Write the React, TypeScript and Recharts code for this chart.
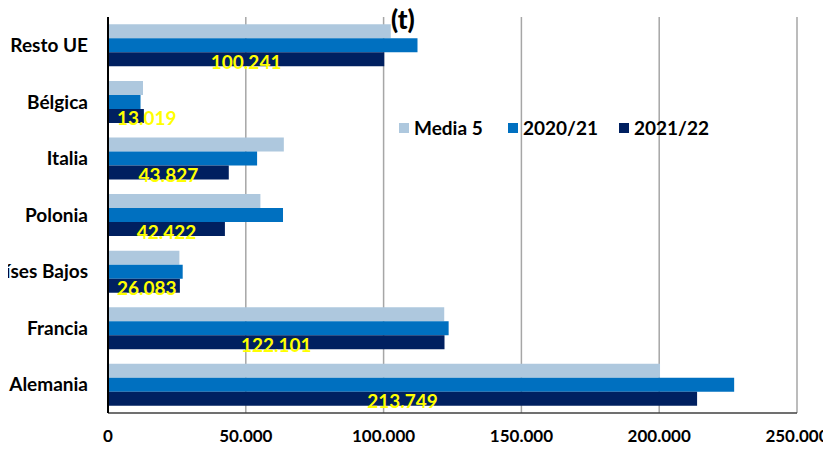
import {
  BarChart,
  Bar,
  XAxis,
  YAxis,
  CartesianGrid,
  LabelList
} from 'recharts';

const countries = ['Resto UE', 'Bélgica', 'Italia', 'Polonia', 'Países Bajos', 'Francia', 'Alemania'];
const media5 = [102600, 12700, 63800, 55300, 25900, 122000, 200300];
const s2020 = [112300, 11800, 54100, 63500, 27100, 123600, 227200];
const s2021 = [100241, 13019, 43827, 42422, 26083, 122101, 213749];
const xTicks = [0, 50000, 100000, 150000, 200000, 250000];

const series = [
  { key: 'media5', name: 'Media 5', color: '#aec8de' },
  { key: 's2020', name: '2020/21', color: '#0070c0' },
  { key: 's2021', name: '2021/22', color: '#002060' }
];

const data = countries.map((c, i) => ({
  country: c,
  media5: media5[i],
  s2020: s2020[i],
  s2021: s2021[i]
}));

const FONT = 'Lato, "Open Sans", sans-serif';

function fmt(v: number) {
  return v.toString().replace(/\B(?=(\d{3})+(?!\d))/g, '.');
}

// excel keeps the label inside the plot when the bar is too short
function BarValue(props: any) {
  const { x, y, width, height, value } = props;
  const txt = fmt(value);
  const cx = Math.max(x + width / 2, x + 10 + txt.length * 4.8);
  return (
    <text
      x={cx}
      y={y + height / 2 + 2}
      textAnchor='middle'
      dominantBaseline='central'
      fill='#ffff00'
      style={{ fontFamily: FONT, fontWeight: 700, fontSize: 19 }}
    >
      {txt}
    </text>
  );
}

const legendPos = [399, 508, 619];

export default function App() {
  return (
    <div style={{ position: 'relative', margin: -8, width: 831, height: 451, background: '#fff', overflow: 'hidden' }}>
      <BarChart
        layout='vertical'
        width={831}
        height={451}
        data={data}
        margin={{ top: 17, right: 34, bottom: 5, left: 0 }}
        barCategoryGap='13%'
        barGap={0}
        style={{ overflow: 'visible' }}
      >
        <CartesianGrid horizontal={false} stroke='#a6a6a6' strokeWidth={1.5} />
        <XAxis
          type='number'
          domain={[0, 250000]}
          ticks={xTicks}
          tickFormatter={fmt}
          tickLine={false}
          tickMargin={11}
          height={33}
          axisLine={{ stroke: '#404040', strokeWidth: 1.5 }}
          tick={{ fill: '#000', fontFamily: FONT, fontWeight: 700, fontSize: 17 }}
        />
        <YAxis
          type='category'
          dataKey='country'
          width={108}
          tickLine={false}
          tickMargin={14}
          axisLine={{ stroke: '#000', strokeWidth: 2 }}
          tick={{ fill: '#000', fontFamily: FONT, fontWeight: 700, fontSize: 19 }}
        />
        {series.map(s => (
          <Bar key={s.key} dataKey={s.key} name={s.name} fill={s.color} isAnimationActive={false}>
            {s.key === 's2021' && <LabelList dataKey='s2021' content={BarValue} />}
          </Bar>
        ))}
      </BarChart>
      {series.map((s, i) => (
        <div
          key={s.key}
          style={{
            position: 'absolute',
            left: legendPos[i],
            top: 116,
            display: 'flex',
            alignItems: 'center',
            fontFamily: FONT,
            fontWeight: 700,
            fontSize: 19,
            lineHeight: '24px'
          }}
        >
          <span style={{ width: 10, height: 10, background: s.color, display: 'inline-block', marginRight: 5 }} />
          <span>{s.name}</span>
        </div>
      ))}
      <div
        style={{
          position: 'absolute',
          left: 391,
          top: 3,
          fontFamily: FONT,
          fontWeight: 900,
          fontSize: 26,
          lineHeight: '32px'
        }}
      >
        (t)
      </div>
    </div>
  );
}
